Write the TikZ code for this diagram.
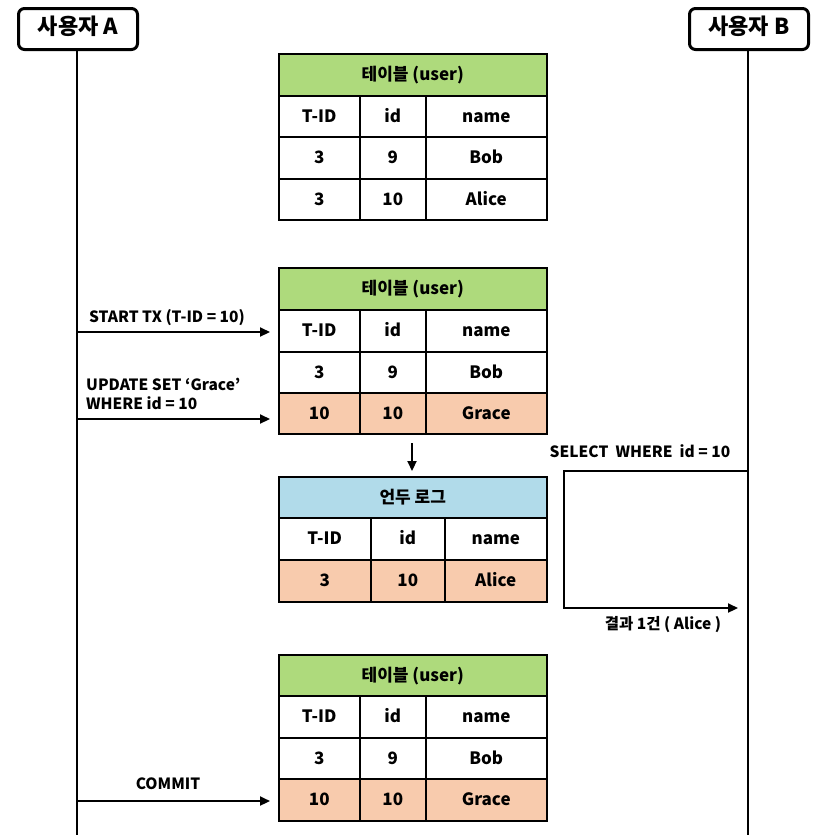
\documentclass[tikz,border=0pt]{standalone}
\usepackage{fontspec}
\setmainfont{Noto Sans CJK KR}
\usetikzlibrary{arrows.meta}
\definecolor{hgreen}{RGB}{174,218,124}
\definecolor{hblue}{RGB}{177,219,234}
\definecolor{hpeach}{RGB}{248,203,173}
\newcommand\cellbox[7]{\node[cellst, fill=#6, minimum width={(#4-#2)*1pt}, minimum height={(#5-#3)*1pt}, anchor=north west] (#1) at (#2,#3) {#7};}
\tikzset{
  cellst/.style={draw, line width=1.5pt, inner sep=0pt, font=\fontsize{17}{20}\selectfont\bfseries, text=black, text height=1.25em, text depth=0.1em},
  actor/.style={draw, line width=3pt, rounded corners=6pt, inner sep=0pt, font=\fontsize{22}{26}\selectfont\bfseries, text height=1.22em, text depth=0.08em},
  lifeline/.style={line width=2pt},
  msg/.style={line width=2.2pt, -{Triangle[length=10pt,width=9pt]}},
  lbl/.style={font=\fontsize{15.5}{19}\selectfont\bfseries, inner sep=0pt}
}
\begin{document}
\begin{tikzpicture}[x=1pt,y=-1pt]
\useasboundingbox (0,0) rectangle (825,835);
% actors
\node[actor, minimum width=119pt, minimum height=41pt, anchor=north west] (ua) at (17,7) {사용자 A};
\node[actor, minimum width=119pt, minimum height=41pt, anchor=north west] (ub) at (688,7) {사용자 B};
\coordinate (uaend) at (77,835);
\coordinate (ubend) at (748,835);
\draw[lifeline] (ua.south -| uaend) -- (uaend);
\draw[lifeline] (ub.south -| ubend) -- (ubend);
% table 1
\cellbox{ta}{278}{53}{546}{95}{hgreen}{테이블 (user)}
\cellbox{ta11}{278}{95}{359}{136}{white}{T-ID}
\cellbox{ta12}{359}{95}{425}{136}{white}{id}
\cellbox{ta13}{425}{95}{546}{136}{white}{name}
\cellbox{ta21}{278}{136}{359}{178}{white}{3}
\cellbox{ta22}{359}{136}{425}{178}{white}{9}
\cellbox{ta23}{425}{136}{546}{178}{white}{Bob}
\cellbox{ta31}{278}{178}{359}{219}{white}{3}
\cellbox{ta32}{359}{178}{425}{219}{white}{10}
\cellbox{ta33}{425}{178}{546}{219}{white}{Alice}
% table 2
\cellbox{tb}{278}{267}{546}{309}{hgreen}{테이블 (user)}
\cellbox{tb11}{278}{309}{359}{351}{white}{T-ID}
\cellbox{tb12}{359}{309}{425}{351}{white}{id}
\cellbox{tb13}{425}{309}{546}{351}{white}{name}
\cellbox{tb21}{278}{351}{359}{392}{white}{3}
\cellbox{tb22}{359}{351}{425}{392}{white}{9}
\cellbox{tb23}{425}{351}{546}{392}{white}{Bob}
\cellbox{tb31}{278}{392}{359}{433}{hpeach}{10}
\cellbox{tb32}{359}{392}{425}{433}{hpeach}{10}
\cellbox{tb33}{425}{392}{546}{433}{hpeach}{Grace}
% undo log
\cellbox{tu}{278}{476}{546}{517}{hblue}{언두 로그}
\cellbox{tu11}{278}{517}{370}{559}{white}{T-ID}
\cellbox{tu12}{370}{517}{444}{559}{white}{id}
\cellbox{tu13}{444}{517}{546}{559}{white}{name}
\cellbox{tu21}{278}{559}{370}{601}{hpeach}{3}
\cellbox{tu22}{370}{559}{444}{601}{hpeach}{10}
\cellbox{tu23}{444}{559}{546}{601}{hpeach}{Alice}
% table 3
\cellbox{tc}{278}{654}{546}{695}{hgreen}{테이블 (user)}
\cellbox{tc11}{278}{695}{359}{737}{white}{T-ID}
\cellbox{tc12}{359}{695}{425}{737}{white}{id}
\cellbox{tc13}{425}{695}{546}{737}{white}{name}
\cellbox{tc21}{278}{737}{359}{778}{white}{3}
\cellbox{tc22}{359}{737}{425}{778}{white}{9}
\cellbox{tc23}{425}{737}{546}{778}{white}{Bob}
\cellbox{tc31}{278}{778}{359}{820}{hpeach}{10}
\cellbox{tc32}{359}{778}{425}{820}{hpeach}{10}
\cellbox{tc33}{425}{778}{546}{820}{hpeach}{Grace}
% messages from A
\coordinate (a1) at (77,332); \coordinate (a1e) at (270,332);
\draw[msg] (a1) -- (a1e);
\node[lbl] (l1) at (167,318) {START TX (T-ID = 10)};
\coordinate (a2) at (77,419); \coordinate (a2e) at (270,419);
\draw[msg] (a2) -- (a2e);
\node[lbl, align=left, anchor=west] (l2) at (86,394) {UPDATE SET ‘Grace’\\WHERE id = 10};
\coordinate (a3) at (77,801); \coordinate (a3e) at (270,801);
\draw[msg] (a3) -- (a3e);
\node[lbl] (l3) at (168,784) {COMMIT};
% down arrow to undo log
\coordinate (d1) at (412,443); \coordinate (d1e) at (412,471);
\draw[msg] (d1) -- (d1e);
% select by B
\coordinate (b1) at (748,471); \coordinate (b1c1) at (564,471); \coordinate (b1c2) at (564,608); \coordinate (b1e) at (738,608);
\draw[msg] (b1) -- (b1c1) -- (b1c2) -- (b1e);
\node[lbl] (l4) at (640,451) {SELECT\ \ WHERE\ \ id = 10};
\node[lbl] (l5) at (663,625) {결과 1건 ( Alice )};
\end{tikzpicture}
\end{document}
